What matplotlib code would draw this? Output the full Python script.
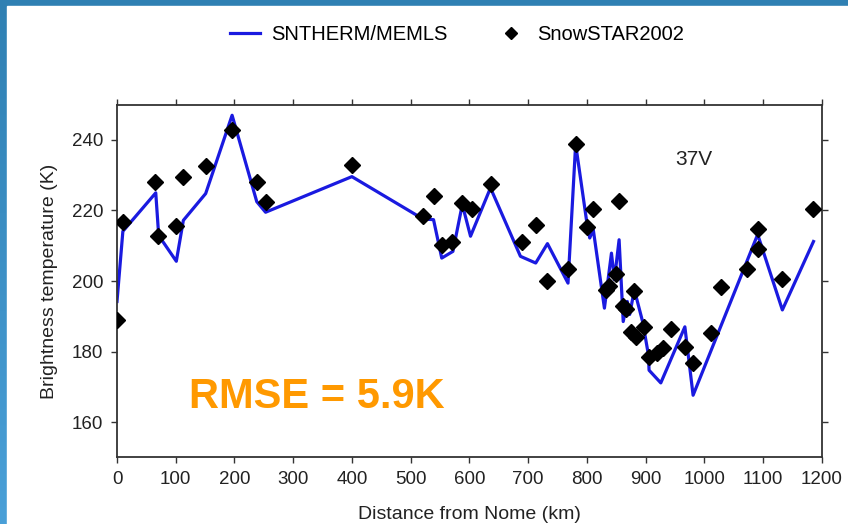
import numpy as np
import matplotlib
matplotlib.use("Agg")
import matplotlib.pyplot as plt
from matplotlib.patches import Rectangle
from matplotlib.colors import LinearSegmentedColormap

plt.rcParams['font.family'] = ['Liberation Sans', 'DejaVu Sans']

# SnowSTAR2002 observations (distance from Nome, brightness temperature)
obs_km = [0, 10, 65, 70, 100, 113, 151, 195, 239, 254, 400, 521, 539, 554, 571,
          588, 604, 637, 690, 713, 733, 768, 781, 800, 810, 832, 838, 850, 855,
          862, 866, 875, 881, 883, 897, 906, 920, 929, 944, 967, 981, 1011, 1028,
          1072, 1092, 1092, 1133, 1186]
obs_tb = [189.0, 216.6, 228.0, 212.9, 215.7, 229.4, 232.5, 242.8, 228.2, 222.5,
          232.8, 218.3, 224.0, 210.3, 211.2, 222.0, 220.3, 227.4, 211.2, 216.0,
          200.1, 203.5, 238.8, 215.2, 220.5, 197.5, 198.5, 202.0, 222.8, 192.9,
          192.2, 185.6, 197.3, 184.2, 187.0, 178.5, 179.6, 180.9, 186.4, 181.4,
          176.8, 185.3, 198.2, 203.5, 214.8, 209.1, 200.5, 220.3]

# SNTHERM/MEMLS simulated brightness temperature along the transect
mod_km = [0, 10, 66, 71, 101, 113, 151, 196, 238, 253, 400, 521, 539, 553, 572,
          588, 602, 636, 687, 713, 733, 768, 781, 801, 805, 811, 830, 842, 847,
          855, 862, 869, 873, 881, 895, 905, 906, 926, 967, 981, 1091, 1133, 1186]
mod_tb = [194.2, 214.1, 225.0, 212.9, 205.6, 217.2, 224.8, 247.0, 222.5, 219.5,
          229.6, 217.6, 217.4, 206.5, 208.4, 221.7, 212.7, 226.4, 207.0, 205.1,
          210.6, 199.4, 238.8, 215.5, 212.2, 214.6, 192.3, 207.9, 200.4, 211.7,
          188.5, 194.2, 190.5, 197.5, 188.5, 179.0, 174.7, 171.1, 187.0, 167.6,
          213.2, 191.8, 211.2]

x_ticks = [0, 100, 200, 300, 400, 500, 600, 700, 800, 900, 1000, 1100, 1200]
y_ticks = [160, 180, 200, 220, 240]

W, H = 848, 524
fig = plt.figure(figsize=(W / 100, H / 100), dpi=100)

# slide frame: blue gradient behind a white panel
bg = fig.add_axes([0, 0, 1, 1], zorder=-10)
grad = np.linspace(0, 1, 256).reshape(-1, 1)
cmap = LinearSegmentedColormap.from_list('frame', ['#2f80b3', '#4aa0d8'])
bg.imshow(grad, aspect='auto', cmap=cmap, extent=[0, 1, 0, 1], origin='upper')
bg.add_patch(Rectangle((7 / W, 0), 1 - 7 / W, 1 - 6 / H, color='white', transform=bg.transAxes))
bg.set_xlim(0, 1)
bg.set_ylim(0, 1)
bg.axis('off')

ax = fig.add_axes([117 / W, 1 - 457.3 / H, (821.7 - 117) / W, (457.3 - 104.7) / H])
ax.set_facecolor('none')

line, = ax.plot(mod_km, mod_tb, color='#1a1ae0', lw=2.3, label='SNTHERM/MEMLS', zorder=2)
pts, = ax.plot(obs_km, obs_tb, linestyle='none', marker='D', ms=8, color='black',
               label='SnowSTAR2002', zorder=3)

ax.set_xlim(0, 1200)
ax.set_ylim(150, 250)
ax.set_xticks(x_ticks)
ax.set_yticks(y_ticks)
ax.tick_params(direction='out', length=4.5, width=1.0, color='#333333', pad=5.5,
               labelsize=13.5, top=True, right=True, labelcolor='#222222')
for s in ax.spines.values():
    s.set_color('#333333')
    s.set_linewidth(1.3)

ax.set_xlabel('Distance from Nome (km)', fontsize=14, color='#222222', labelpad=13)
ax.set_ylabel('Brightness temperature (K)', fontsize=14, color='#222222', labelpad=10)

ax.text(983, 234.5, '37V', fontsize=15, ha='center', va='center', color='#222222')
ax.text(123, 163.9, 'RMSE = 5.9K', fontsize=30, fontweight='bold', color='#ff9900',
        ha='left', va='baseline')

fig.legend(handles=[line, pts], loc='center', bbox_to_anchor=(457 / W, 1 - 35 / H),
           ncol=2, frameon=False, fontsize=14.5, handlelength=1.5, columnspacing=2.4,
           handletextpad=0.55, markerscale=0.75)

fig.savefig('out.png', dpi=100)
